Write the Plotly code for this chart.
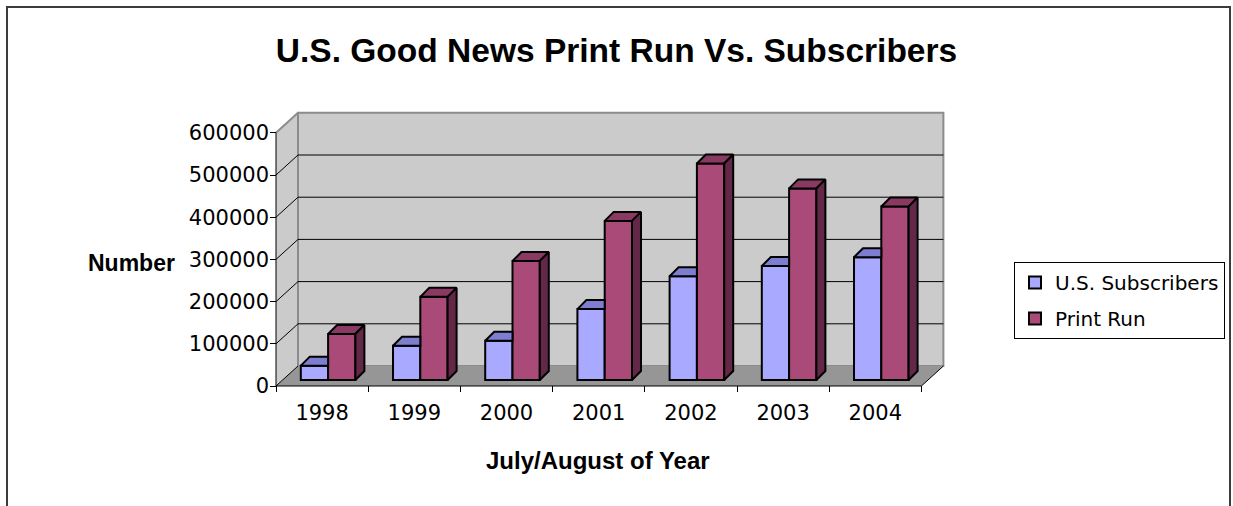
import plotly.graph_objects as go

# ---------------- data ----------------
years = ["1998", "1999", "2000", "2001", "2002", "2003", "2004"]
subscribers = [34000, 81000, 93000, 168000, 246000, 270000, 291000]
print_run = [109000, 197000, 282000, 377000, 513000, 454000, 411000]
y_ticks = [0, 100000, 200000, 300000, 400000, 500000, 600000]

# ---------------- geometry (style) ----------------
PX_PER_CAT = 92.2          # pixels per category
PX_PER_UNIT = 42.2e-5      # pixels per value unit
ML, MR, MT, MB = 270, 283, 108, 114
PLOT_W = 1233 - ML - MR
PLOT_H = 506 - MT - MB
X0 = -0.5 - 6 / PX_PER_CAT
X1 = X0 + PLOT_W / PX_PER_CAT
Y0 = -6 / PX_PER_UNIT
Y1 = Y0 + PLOT_H / PX_PER_UNIT

DX = 22 / PX_PER_CAT       # wall depth
DY = 20 / PX_PER_UNIT
BDX = 6 / PX_PER_CAT       # bar row depth offset
BDY = 6 / PX_PER_UNIT
TDX = 9 / PX_PER_CAT       # bar depth
TDY = 9 / PX_PER_UNIT
BW = 0.296                 # bar width

N = len(years)
LEFT, RIGHT = -0.5, N - 0.5
TOP = y_ticks[-1]

WALL = "#CBCBCB"
FLOOR = "#969696"
EDGE = "#8C8C8C"

SUB_FRONT, SUB_TOP = "#A9A9FF", "#7E7ED0"
PR_FRONT, PR_TOP, PR_SIDE = "#AA4A78", "#8A3A62", "#632848"
OUT_W = 2

shapes = []


def path(pts):
    return "M " + " L ".join(f"{x},{y}" for x, y in pts) + " Z"


# left wall
shapes.append(dict(type="path", layer="below", xref="x", yref="y",
                   path=path([(LEFT, 0), (LEFT, TOP), (LEFT + DX, TOP + DY), (LEFT + DX, DY)]),
                   fillcolor=WALL, line=dict(width=0)))
# back wall
shapes.append(dict(type="rect", layer="below", xref="x", yref="y",
                   x0=LEFT + DX, x1=RIGHT + DX, y0=DY, y1=TOP + DY,
                   fillcolor=WALL, line=dict(color=EDGE, width=2)))
# floor
shapes.append(dict(type="path", layer="below", xref="x", yref="y",
                   path=path([(LEFT, 0), (RIGHT, 0), (RIGHT + DX, DY), (LEFT + DX, DY)]),
                   fillcolor=FLOOR, line=dict(width=0)))
# left wall top edge
shapes.append(dict(type="line", layer="below", xref="x", yref="y",
                   x0=LEFT, y0=TOP, x1=LEFT + DX, y1=TOP + DY,
                   line=dict(color=EDGE, width=2)))
# grid lines on back wall + diagonals on left wall
for v in y_ticks[1:-1]:
    shapes.append(dict(type="line", layer="below", xref="x", yref="y",
                       x0=LEFT + DX, y0=v + DY, x1=RIGHT + DX, y1=v + DY,
                       line=dict(color="black", width=1)))
for v in y_ticks[:-1]:
    shapes.append(dict(type="line", layer="below", xref="x", yref="y",
                       x0=LEFT, y0=v, x1=LEFT + DX, y1=v + DY,
                       line=dict(color="black", width=1)))
# front axes
shapes.append(dict(type="line", layer="below", xref="x", yref="y",
                   x0=LEFT, y0=0, x1=LEFT, y1=TOP, line=dict(color="black", width=1)))
shapes.append(dict(type="line", layer="below", xref="x", yref="y",
                   x0=LEFT, y0=0, x1=RIGHT, y1=0, line=dict(color="black", width=1)))
shapes.append(dict(type="line", layer="below", xref="x", yref="y",
                   x0=RIGHT, y0=0, x1=RIGHT + DX, y1=DY, line=dict(color="black", width=1)))
# outer chart border
shapes.append(dict(type="rect", xref="paper", yref="paper",
                   x0=(7 - ML) / PLOT_W, x1=(1230 - ML) / PLOT_W,
                   y0=-0.8, y1=(MT + PLOT_H - 7) / PLOT_H,
                   line=dict(color="#3C3C3C", width=2), fillcolor="rgba(0,0,0,0)"))

fig = go.Figure()

xs = [i + BDX for i in range(N)]
fig.add_trace(go.Bar(x=xs, y=subscribers, base=BDY, width=BW, offset=-BW,
                     name="U.S. Subscribers", legendgroup="a",
                     marker=dict(color=SUB_FRONT, line=dict(color="black", width=OUT_W))))
fig.add_trace(go.Bar(x=xs, y=print_run, base=BDY, width=BW, offset=0,
                     name="Print Run", legendgroup="b",
                     marker=dict(color=PR_FRONT, line=dict(color="black", width=OUT_W))))

# subscriber top faces (right part hidden behind print-run bar)
tx, ty = [], []
for i, v in enumerate(subscribers):
    xl, xr, t = xs[i] - BW, xs[i], BDY + v
    for px, py in [(xl, t), (xr, t), (xr, t + TDY), (xl + TDX, t + TDY), (xl, t)]:
        tx.append(px); ty.append(py)
    tx.append(None); ty.append(None)
fig.add_trace(go.Scatter(x=tx, y=ty, mode="lines", fill="toself", fillcolor=SUB_TOP,
                         line=dict(color="black", width=OUT_W), showlegend=False, hoverinfo="skip"))

# print run top and side faces
tx, ty, sx, sy = [], [], [], []
for i, v in enumerate(print_run):
    xl, xr, t = xs[i], xs[i] + BW, BDY + v
    for px, py in [(xl, t), (xr, t), (xr + TDX, t + TDY), (xl + TDX, t + TDY), (xl, t)]:
        tx.append(px); ty.append(py)
    tx.append(None); ty.append(None)
    for px, py in [(xr, BDY), (xr, t), (xr + TDX, t + TDY), (xr + TDX, BDY + TDY), (xr, BDY)]:
        sx.append(px); sy.append(py)
    sx.append(None); sy.append(None)
fig.add_trace(go.Scatter(x=tx, y=ty, mode="lines", fill="toself", fillcolor=PR_TOP,
                         line=dict(color="black", width=OUT_W), showlegend=False, hoverinfo="skip"))
fig.add_trace(go.Scatter(x=sx, y=sy, mode="lines", fill="toself", fillcolor=PR_SIDE,
                         line=dict(color="black", width=OUT_W), showlegend=False, hoverinfo="skip"))

TICKFONT = dict(family="DejaVu Sans", size=21, color="black")

fig.update_layout(
    width=1233, height=506,
    margin=dict(l=ML, r=MR, t=MT, b=MB, autoexpand=False),
    paper_bgcolor="white", plot_bgcolor="white",
    barmode="overlay",
    shapes=shapes,
    title=dict(text="<b>U.S. Good News Print Run Vs. Subscribers</b>",
               x=0.5, xanchor="center", y=1 - 50 / 506, yanchor="middle",
               font=dict(family="Liberation Sans", size=33.5, color="black")),
    xaxis=dict(range=[X0, X1], showgrid=False, zeroline=False, showline=False,
               tickmode="array", tickvals=list(range(N)), ticktext=years,
               ticks="", tickfont=TICKFONT, ticklabelstandoff=6, automargin=False,
               minor=dict(tickmode="array", tickvals=[i - 0.5 for i in range(N + 1)],
                          ticks="inside", ticklen=6, tickcolor="black", showgrid=False)),
    yaxis=dict(range=[Y0, Y1], showgrid=False, zeroline=False, showline=False,
               tickmode="array", tickvals=y_ticks, ticktext=[str(v) for v in y_ticks],
               ticks="inside", ticklen=6, tickcolor="black", tickfont=TICKFONT,
               automargin=False),
    legend=dict(x=(1014 - ML) / PLOT_W, xanchor="left",
                y=(MT + PLOT_H - 262) / PLOT_H, yanchor="top",
                bordercolor="black", borderwidth=1, bgcolor="white",
                font=dict(family="DejaVu Sans", size=20, color="black"),
                traceorder="grouped", tracegroupgap=7, itemwidth=30),
    annotations=[
        dict(text="<b>Number</b>", xref="paper", yref="paper",
             x=(131 - ML) / PLOT_W, y=(MT + PLOT_H - 263) / PLOT_H,
             showarrow=False, xanchor="center", yanchor="middle",
             font=dict(family="Liberation Sans", size=23, color="black")),
        dict(text="<b>July/August of Year</b>", xref="paper", yref="paper",
             x=(598 - ML) / PLOT_W, y=(MT + PLOT_H - 460) / PLOT_H,
             showarrow=False, xanchor="center", yanchor="middle",
             font=dict(family="Liberation Sans", size=24, color="black")),
    ],
)

fig.write_html("out.html")
